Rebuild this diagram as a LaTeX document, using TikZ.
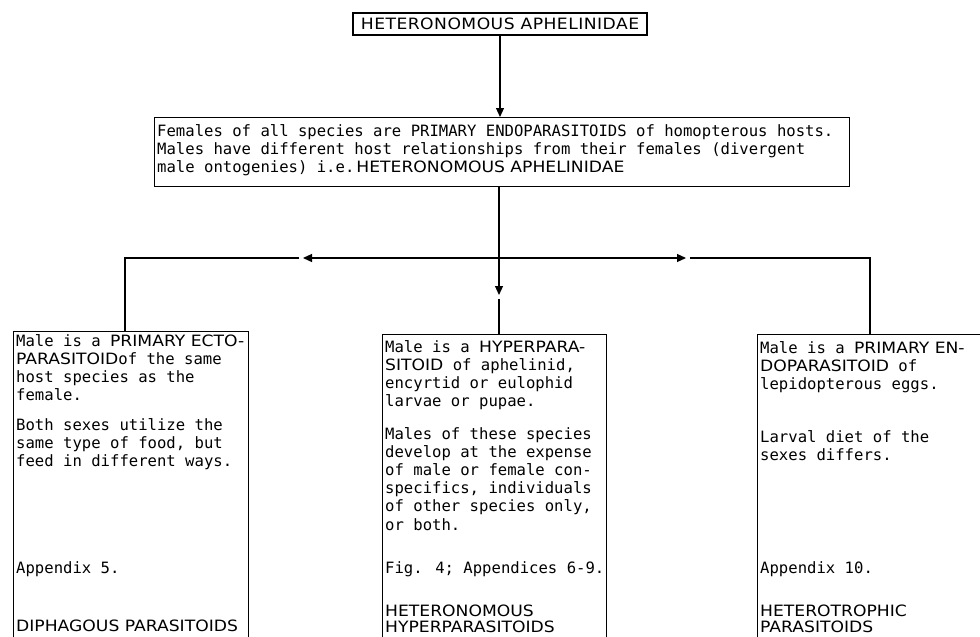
\documentclass[tikz,border=0pt]{standalone}
\usepackage{fontspec}
\setmainfont{DejaVu Sans Mono}
\newfontfamily\capfnt[FakeStretch=1.1]{DejaVu Sans}
\newfontfamily\titlefnt[FakeStretch=1.1,LetterSpace=3]{DejaVu Sans}
\usetikzlibrary{arrows.meta}
% wide capitals used for the group names
\newcommand\Cp[1]{{\capfnt #1}}
\begin{document}
\begin{tikzpicture}[x=1pt,y=-1pt,
  box/.style={draw, line width=1.2pt, rectangle, inner sep=0pt, anchor=north west},
  txt/.style={inner sep=0pt, anchor=north west, align=left,
              font=\fontsize{15.6}{18.2}\selectfont},
  conn/.style={line width=1.2pt},
  tip/.style={-{Triangle[length=9pt,width=8pt]}}]

\useasboundingbox (0,0) rectangle (980,637);
\fill[white] (0,0) rectangle (980,637);
\clip (0,0) rectangle (980,637);

% title box
\node[box, anchor=center, minimum width=294pt, minimum height=22pt,
      font=\fontsize{15.6}{18.2}\selectfont] (top) at (500,24)
      {\titlefnt HETERONOMOUS APHELINIDAE};

% females box
\node[box, minimum width=695pt, minimum height=69pt] (fem) at (154,117) {};
\node[txt] (femtxt) at (157,124)
  {Females of all species are PRIMARY ENDOPARASITOIDS of homopterous hosts.\\
   Males have different host relationships from their females (divergent\\
   male ontogenies) i.e.\kern2pt\Cp{HETERONOMOUS APHELINIDAE}};

% three male boxes, running on past the lower edge
\node[box, minimum width=235pt, minimum height=330pt] (lbox) at (13,331) {};
\node[box, minimum width=224pt, minimum height=330pt] (cbox) at (382,334) {};
\node[box, minimum width=300pt, minimum height=330pt] (rbox) at (757,334) {};

% left box texts
\node[txt] (l1) at (16,334)
  {Male is a \Cp{PRIMARY ECTO-}\\
   \Cp{PARASITOID}of the same\\
   host species as the\\
   female.};
\node[txt] (l2) at (16,418)
  {Both sexes utilize the\\
   same type of food, but\\
   feed in different ways.};
\node[txt] (l3) at (16,561) {Appendix 5.};
\node[txt] (l4) at (16,620) {\Cp{DIPHAGOUS PARASITOIDS}};

% centre box texts
\node[txt] (c1) at (385,340)
  {Male is a \Cp{HYPERPARA-}\\
   \Cp{SITOID} of aphelinid,\\
   encyrtid or eulophid\\
   larvae or pupae.};
\node[txt] (c2) at (385,427)
  {Males of these species\\
   develop at the expense\\
   of male or female con-\\
   specifics, individuals\\
   of other species only,\\
   or both.};
\node[txt] (c3) at (385,561) {Fig. 4; Appendices 6-9.};
\node[txt] (c4) at (385,605)
  {\Cp{HETERONOMOUS}\\[-2.5pt]
   \Cp{HYPERPARASITOIDS}};

% right box texts
\node[txt] (r1) at (760,341)
  {Male is a \Cp{PRIMARY EN-}\\
   \Cp{DOPARASITOID} of\\
   lepidopterous eggs.};
\node[txt] (r2) at (760,430)
  {Larval diet of the\\
   sexes differs.};
\node[txt] (r3) at (760,561) {Appendix 10.};
\node[txt] (r4) at (760,605)
  {\Cp{HETEROTROPHIC}\\[-2.5pt]
   \Cp{PARASITOIDS}};

% connector points
\coordinate (hub)   at (499,258);
\coordinate (ltip)  at (303,258);
\coordinate (lgap)  at (299,258);
\coordinate (lturn) at (125,258);
\coordinate (rtip)  at (686,258);
\coordinate (rgap)  at (690,258);
\coordinate (rturn) at (870,258);
\coordinate (ctip)  at (499,295);
\coordinate (cgap)  at (499,299);

% connectors
\draw[conn, tip] (top.south) -- (top.south |- fem.north);
\draw[conn] (hub |- fem.south) -- (hub);
\draw[conn, tip] (hub) -- (ltip);
\draw[conn] (lgap) -- (lturn) -- (lturn |- lbox.north);
\draw[conn, tip] (hub) -- (rtip);
\draw[conn] (rgap) -- (rturn) -- (rturn |- rbox.north);
\draw[conn, tip] (hub) -- (ctip);
\draw[conn] (cgap) -- (cgap |- cbox.north);
\end{tikzpicture}
\end{document}
